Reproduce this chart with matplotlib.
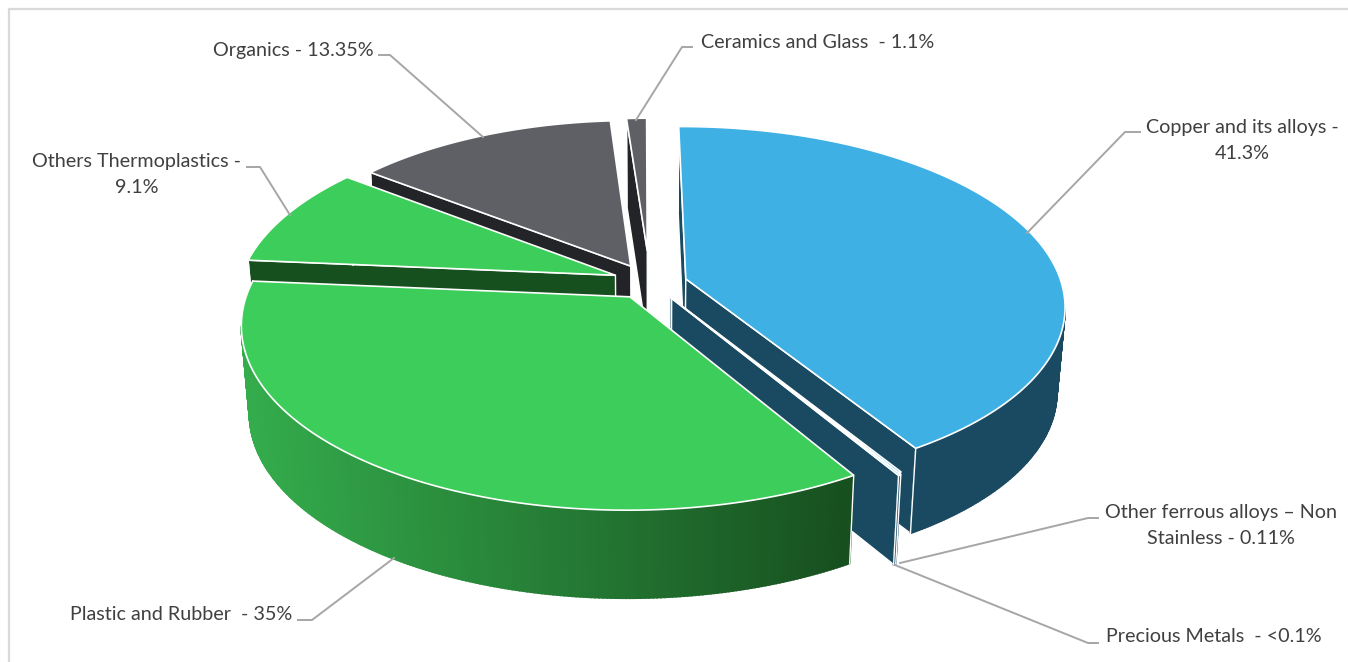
import numpy as np
import matplotlib
matplotlib.use('Agg')
import matplotlib.pyplot as plt
from matplotlib.colors import to_rgb

# data
categories = ['Copper and its alloys', 'Other ferrous alloys', 'Precious Metals',
              'Plastic and Rubber', 'Others Thermoplastics', 'Organics', 'Ceramics and Glass']
values = [41.3, 0.11, 0.1, 35, 9.1, 13.35, 1.1]
labels = ['Copper and its alloys -\n41.3%', 'Other ferrous alloys \u2013 Non\nStainless - 0.11%',
          'Precious Metals  - <0.1%', 'Plastic and Rubber  - 35%',
          'Others Thermoplastics -\n9.1%', 'Organics - 13.35%', 'Ceramics and Glass  - 1.1%']

# look of the slices
top_colors = ['#3EB0E4', '#3EB0E4', '#3EB0E4', '#3CCD5A', '#3CCD5A', '#5F6065', '#5F6065']
wall_colors = ['#1A4A61', '#1A4A61', '#1A4A61', None, '#17501F', '#232427', '#232427']
explode = [0.105, 0.085, 0.095, 0.085, 0.105, 0.11, 0.20]
radius = [1.0, 1.0, 1.0, 1.01, 1.0, 0.97, 0.90]
depths = [85, 89, 89, 88, 88, 88, 88]
nudge_x = [-2, 3, 3, -3, 2, 0, 0]
nudge_y = [-1, -1, -1, -1, -3, -2, 0]
draw_order = [6, 5, 4, 0, 1, 2, 3]
start_angle = -0.4

# projection of the disc
cx, cy = 650, 285
A, B, k = 376, 176, 0.146
shrink = 0.02

# label placing, x is the centre of the text block
label_x = [1242, 1221, 1214, 181, 137, 293, 818]
label_y = [140, 525, 636, 614, 174, 50, 42]
leaders = [
    [(1140, 132), (1125, 132), (1027, 233)],
    [(1098, 518), (1088, 518), (900, 563)],
    [(1098, 643), (1088, 643), (895, 565)],
    [(298, 620), (312, 620), (394, 558)],
    [(247, 167), (260, 167), (290, 215)],
    [(379, 55), (390, 55), (483, 137)],
    [(692, 47), (682, 47), (636, 120)],
]


def project(X, Y, dx, dy):
    w = 1 + k * Y
    return cx + A * X / w + dx, cy - B * Y / w + dy


def lower(p, depth):
    return (cx + (p[0] - cx) * (1 - shrink), p[1] + depth)


def faces_viewer(a, b, inside):
    # the wall under edge a-b shows when the slice lies on the far side of the edge
    ex, ey = b[0] - a[0], b[1] - a[1]
    side = ex * (inside[1] - a[1]) - ey * (inside[0] - a[0])
    return side * ex < 0


def plastic_color(x):
    t = np.clip((x - 245) / (850 - 245), 0, 1)
    c0, c1 = np.array(to_rgb('#34AC4C')), np.array(to_rgb('#174F1F'))
    return tuple(c0 + (c1 - c0) * t)


fig = plt.figure(figsize=(13.48, 6.62), dpi=100)
ax = fig.add_axes([0, 0, 1, 1])
ax.set_xlim(0, 1348)
ax.set_ylim(662, 0)
ax.axis('off')

# chart frame
ax.plot([9, 9, 1348], [662, 8.5, 8.5], color='#D9D9D9', lw=1.6)

edges = start_angle + np.cumsum([0] + values) * 3.6

for i in draw_order:
    t0, t1 = edges[i], edges[i + 1]
    z = 2 + draw_order.index(i)
    d = depths[i]
    mid = np.radians((t0 + t1) / 2)
    ox, oy = explode[i] * np.sin(mid), explode[i] * np.cos(mid)
    ts = np.radians(np.linspace(t0, t1, max(3, int(t1 - t0) * 2)))
    arc = [project(ox + radius[i] * np.sin(t), oy + radius[i] * np.cos(t), nudge_x[i], nudge_y[i]) for t in ts]
    apex = project(ox, oy, nudge_x[i], nudge_y[i])
    middle = arc[len(arc) // 2]
    inside = ((apex[0] + middle[0]) / 2, (apex[1] + middle[1]) / 2)

    # cut faces
    for p in (arc[0], arc[-1]):
        if faces_viewer(apex, p, inside):
            quad = [apex, p, lower(p, d), lower(apex, d)]
            color = wall_colors[i] if wall_colors[i] else plastic_color(p[0])
            ax.fill(*zip(*quad), facecolor=color, edgecolor='white', lw=1.0, zorder=z)

    # outer wall
    for a, b in zip(arc[:-1], arc[1:]):
        if faces_viewer(a, b, apex):
            quad = [a, b, lower(b, d), lower(a, d)]
            color = wall_colors[i] if wall_colors[i] else plastic_color((a[0] + b[0]) / 2)
            ax.fill(*zip(*quad), facecolor=color, edgecolor=color, lw=1.3, zorder=z)
    for p in (arc[0], arc[-1]):
        low = lower(p, d)
        ax.plot([p[0], low[0]], [p[1], low[1]], color='white', lw=1.0, zorder=z)

    # top
    ax.fill(*zip(*([apex] + arc)), facecolor=top_colors[i], edgecolor='white', lw=1.2,
            joinstyle='miter', zorder=z)

for line in leaders:
    ax.plot(*zip(*line), color='#A6A6A6', lw=1.4, zorder=20)

for text, x, y in zip(labels, label_x, label_y):
    ax.text(x, y + 0.5, text, family='Lato', fontsize=14.2, color='#404040', ha='center', va='center',
            linespacing=1.58, zorder=21)

fig.savefig('out.png', dpi=100)
